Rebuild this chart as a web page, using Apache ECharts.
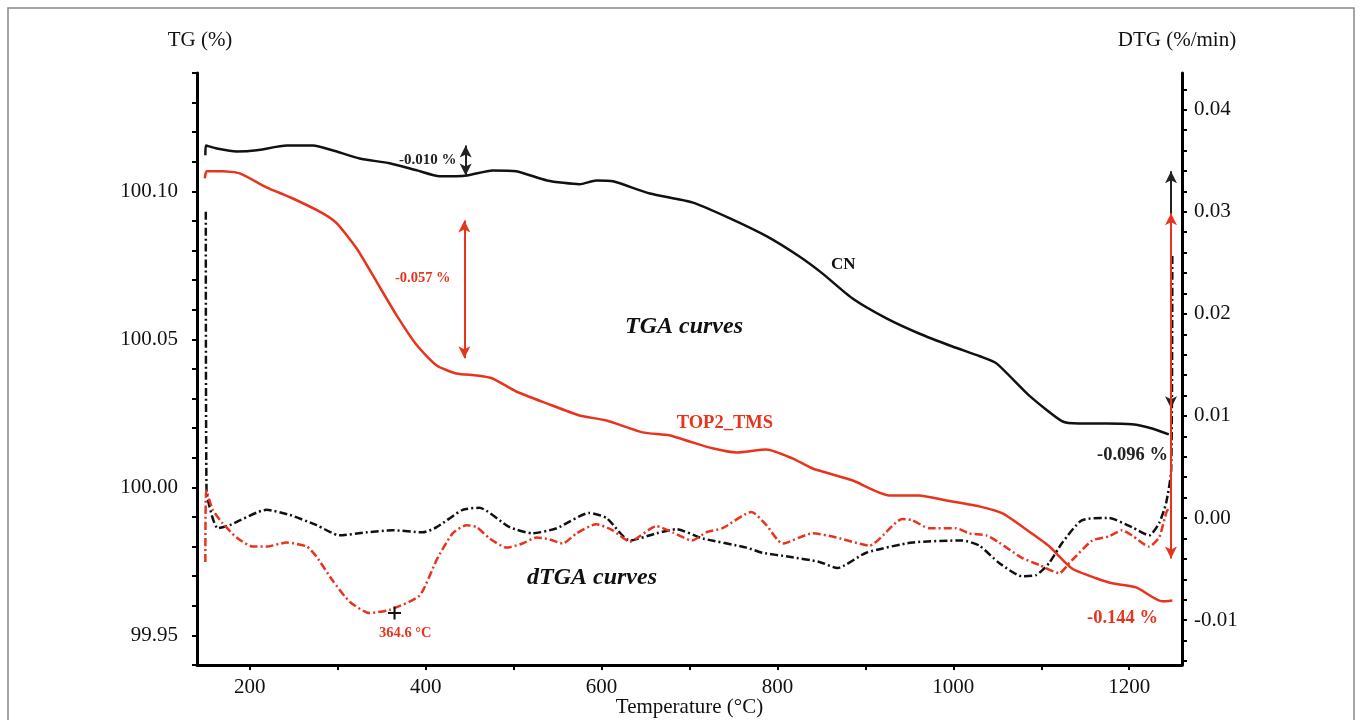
<!DOCTYPE html>
<html><head><meta charset="utf-8">
<script src="https://cdn.jsdelivr.net/npm/echarts@6/dist/echarts.min.js"></script>
<style>html,body{margin:0;padding:0;background:#fff}#c{width:1360px;height:720px}</style>
</head><body><div id="c"></div>
<script>
// ---- data (temperature °C, value) ----
const cnTg = [[149.5,100.1122],[150,100.1155],[162.5,100.1145],[185,100.1135],[208,100.1139],[242,100.1155],[272,100.1155],[294,100.1139],[325,100.1111],[359,100.1095],[390,100.1071],[416,100.1051],[447,100.1054],[476,100.1071],[503,100.1068],[538,100.1037],[575,100.1024],[594,100.1037],[613,100.1034],[655,100.0993],[703,100.0963],[746,100.0909],[788,100.0848],[825,100.0780],[851,100.0723],[885,100.0639],[924,100.0571],[961,100.0520],[999,100.0476],[1030,100.0443],[1049,100.0419],[1086,100.0311],[1124,100.0223],[1143,100.0216],[1174,100.0216],[1203,100.0213],[1226,100.0199],[1245,100.0179]];
const topTg = [[148.9,100.1044],[151,100.1068],[169,100.1068],[188.6,100.1061],[219,100.1014],[249,100.0976],[283,100.0926],[299,100.0892],[321.6,100.0807],[344,100.0696],[367,100.0581],[390,100.0480],[412.5,100.0412],[435,100.0385],[458,100.0378],[476,100.0368],[503,100.0324],[537.5,100.0284],[575,100.0243],[605.7,100.0226],[646.6,100.0186],[677,100.0176],[700,100.0155],[726,100.0132],[753,100.0118],[787.5,100.0128],[817,100.0098],[840,100.0064],[885,100.0024],[927,99.9973],[961,99.9973],[992,99.9956],[1029.5,99.9936],[1056,99.9912],[1086,99.9851],[1109,99.9801],[1135,99.9726],[1162.5,99.9693],[1180.7,99.9676],[1208,99.9662],[1237.5,99.9615],[1249,99.9618]];
const cnDtg = [[150,0.0300],[150.8,0.0028],[163.6,-0.0010],[177,-0.0007],[219,0.0008],[245.5,0.0003],[276,-0.0007],[302,-0.0017],[333,-0.0014],[362.5,-0.0012],[396.6,-0.0014],[412.5,-0.0009],[442,0.0008],[461,0.0010],[495.5,-0.0009],[521.6,-0.0015],[549,-0.0010],[586,0.0005],[605.7,0.0000],[632,-0.0022],[662.5,-0.0015],[685,-0.0011],[715,-0.0020],[765,-0.0029],[783,-0.0034],[813.6,-0.0038],[847.7,-0.0043],[868,-0.0049],[901,-0.0034],[953.4,-0.0024],[1010,-0.0022],[1029.5,-0.0027],[1052,-0.0044],[1078,-0.0057],[1094,-0.0056],[1109,-0.0044],[1124,-0.0024],[1146.6,-0.0002],[1177,0.0000],[1203,-0.0009],[1222.7,-0.0017],[1234,-0.0005],[1242,0.0015],[1247.7,0.0047],[1249,0.0258]];
const topDtg = [[149.5,-0.0043],[150.5,0.0027],[158,0.0008],[169,-0.0005],[185,-0.0019],[203.4,-0.0028],[219,-0.0028],[242,-0.0024],[265,-0.0028],[276,-0.0038],[294,-0.0061],[313.6,-0.0082],[336,-0.0093],[359,-0.0090],[393,-0.0076],[412.5,-0.0041],[430.7,-0.0015],[446.6,-0.0007],[458,-0.0009],[472.7,-0.0020],[492,-0.0029],[510,-0.0025],[526,-0.0019],[541,-0.0021],[555.7,-0.0025],[571.6,-0.0015],[594,-0.0006],[612.5,-0.0012],[632,-0.0023],[662.5,-0.0008],[680.7,-0.0014],[703,-0.0022],[719,-0.0014],[737.5,-0.0010],[770.5,0.0006],[787.5,-0.0007],[805.7,-0.0025],[840,-0.0015],[867,-0.0019],[904.5,-0.0027],[942,-0.0001],[953,-0.0002],[972.7,-0.0010],[1003,-0.0010],[1018,-0.0015],[1037.5,-0.0017],[1052,-0.0024],[1078,-0.0039],[1097.7,-0.0046],[1120.5,-0.0054],[1132,-0.0044],[1158,-0.0022],[1177,-0.0018],[1192,-0.0012],[1203,-0.0017],[1222.7,-0.0028],[1234,-0.0019],[1242,0.0005],[1245.5,0.0011]];
const peakPoint = [364.6, -0.0093];
// annotation arrows in data coords (TG axis)
const cnArrows = [[[445.5,100.1155],[445.5,100.1054]],[[1247.5,100.1068],[1247.5,100.0267]]];
const topArrows = [[[444,100.0902],[444,100.0436]],[[1247.5,100.0926],[1247.5,99.9760]]];
// tick labels
const xTicks = [200,300,400,500,600,700,800,900,1000,1100,1200];
const xLabels = [200,400,600,800,1000,1200];
const tgTicks = [99.94,99.95,99.96,99.97,99.98,99.99,100.00,100.01,100.02,100.03,100.04,100.05,100.06,100.07,100.08,100.09,100.10,100.11,100.12,100.13,100.14];
const tgLabels = [99.95,100.00,100.05,100.10];
const dtgTicks = [-0.014,-0.012,-0.010,-0.008,-0.006,-0.004,-0.002,0,0.002,0.004,0.006,0.008,0.010,0.012,0.014,0.016,0.018,0.020,0.022,0.024,0.026,0.028,0.030,0.032,0.034,0.036,0.038,0.040,0.042];
const dtgLabels = [-0.01,0,0.01,0.02,0.03,0.04];

const FF = 'Liberation Serif';
const RED = '#e8341c', BLK = '#111111';
const chart = echarts.init(document.getElementById('c'));
function arrows(list, color){
  return {silent:true, symbol:['arrow','arrow'], symbolSize:[9,12], label:{show:false},
    lineStyle:{type:'solid', width:2, color:color}, emphasis:{disabled:true},
    data:list.map(a=>[{coord:a[0]},{coord:a[1]}])};
}
function txt(t,x,y,size,color,opts){
  return Object.assign({type:'text', x:x, y:y, silent:true, z:100,
    style:Object.assign({text:t, fontFamily:FF, fontSize:size, fontWeight:'bold', fill:color, align:'left', verticalAlign:'middle'}, opts||{})});
}
const axisFont = {fontFamily:FF, fontSize:21, color:BLK};
chart.setOption({
  animation:false,
  grid:{left:197, right:178, top:73, bottom:55, outerBoundsMode:'none', containLabel:false},
  xAxis:{type:'value', min:140, max:1260,
    axisLine:{show:true, onZero:false, lineStyle:{color:'#000', width:3}},
    axisTick:{show:true, customValues:xTicks, length:5, lineStyle:{color:'#000', width:2}},
    axisLabel:Object.assign({customValues:xLabels, margin:12, formatter:v=>String(v)}, axisFont),
    splitLine:{show:false}},
  yAxis:[
    {type:'value', min:99.94, max:100.14, position:'left',
      axisLine:{show:true, lineStyle:{color:'#000', width:3}},
      axisTick:{show:true, customValues:tgTicks, length:5, lineStyle:{color:'#000', width:2}},
      axisLabel:Object.assign({customValues:tgLabels, margin:19, formatter:v=>Number(v).toFixed(2)}, axisFont),
      splitLine:{show:false}},
    {type:'value', min:-0.0144, max:0.0436, position:'right',
      axisLine:{show:true, lineStyle:{color:'#000', width:3}},
      axisTick:{show:true, customValues:dtgTicks, length:5, lineStyle:{color:'#000', width:2}},
      axisLabel:Object.assign({customValues:dtgLabels, margin:12, formatter:v=>Number(v).toFixed(2)}, axisFont),
      splitLine:{show:false}}
  ],
  series:[
    {name:'CN TG', type:'line', yAxisIndex:0, data:cnTg, showSymbol:false, smooth:0.2, silent:true,
      lineStyle:{color:BLK, width:2.5}, markLine:arrows(cnArrows, '#222')},
    {name:'TOP2_TMS TG', type:'line', yAxisIndex:0, data:topTg, showSymbol:false, smooth:0.2, silent:true,
      lineStyle:{color:RED, width:2.5}, markLine:arrows(topArrows, RED)},
    {name:'CN DTG', type:'line', yAxisIndex:1, data:cnDtg, showSymbol:false, smooth:0.2, silent:true,
      lineStyle:{color:BLK, width:2.5, type:[8,3,2,3]}},
    {name:'TOP2_TMS DTG', type:'line', yAxisIndex:1, data:topDtg, showSymbol:false, smooth:0.2, silent:true,
      lineStyle:{color:RED, width:2.5, type:[8,3,2,3]},
      markPoint:{silent:true, symbol:'path://M4.2,0 L5.8,0 L5.8,4.2 L10,4.2 L10,5.8 L5.8,5.8 L5.8,10 L4.2,10 L4.2,5.8 L0,5.8 L0,4.2 L4.2,4.2 Z',
        symbolSize:13, itemStyle:{color:BLK}, label:{show:false}, data:[{coord:peakPoint}]}}
  ],
  graphic:[
    {type:'rect', silent:true, z:-1, shape:{x:8, y:8, width:1346, height:720}, style:{fill:'none', stroke:'#888', lineWidth:1.5}},
    txt('TG (%)', 200, 40, 21, BLK, {fontWeight:'normal', align:'center'}),
    txt('DTG (%/min)', 1177, 40, 21, BLK, {fontWeight:'normal', align:'center'}),
    txt('Temperature (°C)', 689.5, 707, 21, BLK, {fontWeight:'normal', align:'center'}),
    txt('-0.010 %', 399, 160, 15, '#222'),
    txt('-0.057 %', 395, 278, 14.5, RED),
    txt('TGA curves', 625, 327, 24, BLK, {fontStyle:'italic'}),
    txt('CN', 831, 265, 17, BLK),
    txt('TOP2_TMS', 773, 423, 18.5, RED, {align:'right'}),
    txt('-0.096 %', 1097, 455, 18.5, '#222'),
    txt('-0.144 %', 1087, 618, 18.5, RED),
    txt('dTGA curves', 527, 578, 24, BLK, {fontStyle:'italic'}),
    txt('364.6 °C', 379, 633, 14.5, RED)
  ]
});
</script></body></html>
